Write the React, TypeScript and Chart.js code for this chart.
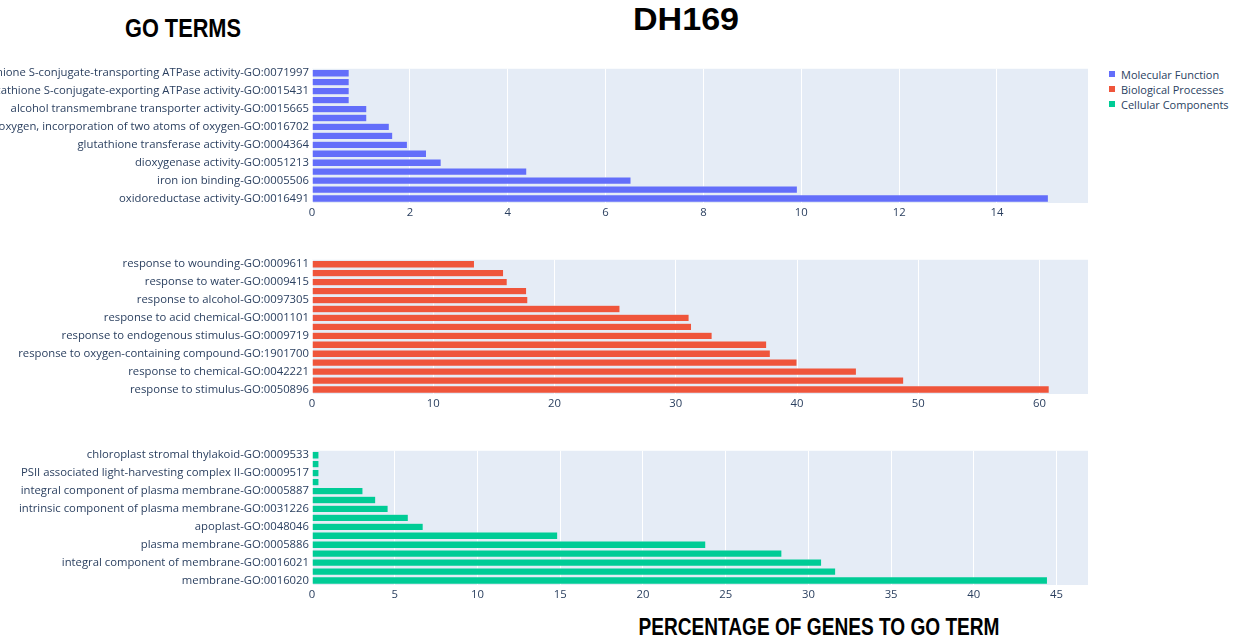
import React, { useEffect, useRef } from "react";
import { Chart, registerables } from "chart.js";

Chart.register(...registerables);

// Molecular Function terms, listed top to bottom as drawn
const mfTerms = [
  "glutathione S-conjugate-transporting ATPase activity-GO:0071997",
  "",
  "glutathione S-conjugate-exporting ATPase activity-GO:0015431",
  "",
  "alcohol transmembrane transporter activity-GO:0015665",
  "",
  "oxidoreductase activity, acting on single donors with incorporation of molecular oxygen, incorporation of two atoms of oxygen-GO:0016702",
  "",
  "glutathione transferase activity-GO:0004364",
  "",
  "dioxygenase activity-GO:0051213",
  "",
  "iron ion binding-GO:0005506",
  "",
  "oxidoreductase activity-GO:0016491",
];
const mfValues = [0.76, 0.76, 0.76, 0.76, 1.12, 1.12, 1.58, 1.65, 1.95, 2.34, 2.64, 4.39, 6.52, 9.92, 15.05];

// Biological Processes terms
const bpTerms = [
  "response to wounding-GO:0009611",
  "",
  "response to water-GO:0009415",
  "",
  "response to alcohol-GO:0097305",
  "",
  "response to acid chemical-GO:0001101",
  "",
  "response to endogenous stimulus-GO:0009719",
  "",
  "response to oxygen-containing compound-GO:1901700",
  "",
  "response to chemical-GO:0042221",
  "",
  "response to stimulus-GO:0050896",
];
const bpValues = [13.4, 15.8, 16.1, 17.7, 17.8, 25.4, 31.1, 31.3, 33.0, 37.5, 37.8, 40.0, 44.9, 48.8, 60.8];

// Cellular Components terms
const ccTerms = [
  "chloroplast stromal thylakoid-GO:0009533",
  "",
  "PSII associated light-harvesting complex II-GO:0009517",
  "",
  "integral component of plasma membrane-GO:0005887",
  "",
  "intrinsic component of plasma membrane-GO:0031226",
  "",
  "apoplast-GO:0048046",
  "",
  "plasma membrane-GO:0005886",
  "",
  "integral component of membrane-GO:0016021",
  "",
  "membrane-GO:0016020",
];
const ccValues = [0.42, 0.42, 0.42, 0.42, 3.08, 3.85, 4.6, 5.82, 6.72, 14.85, 23.8, 28.4, 30.8, 31.65, 44.45];

// Axis ranges and tick steps for the three panels
const axisMax = [15.86, 64.0, 46.9];
const axisStep = [2, 10, 5];

const seriesNames = ["Molecular Function", "Biological Processes", "Cellular Components"];
const seriesColors = ["#636EFA", "#EF553B", "#00CC96"];

const TEXT_COLOR = "#2a3f5f";
const PLOT_BG = "#E5ECF6";
const FONT = '"Open Sans", "Noto Sans", sans-serif';
const TICK_SIZE = 11.3;

const CANVAS_W = 1100;
const PLOT_LEFT = 312;
const PLOT_RIGHT = 1088;
const PAD_TOP = 6;
const X_AXIS_H = 22;

const plotBackground = {
  id: "plotBackground",
  beforeDraw(chart: any) {
    const { ctx, chartArea } = chart;
    if (!chartArea) return;
    ctx.save();
    ctx.fillStyle = PLOT_BG;
    ctx.fillRect(chartArea.left, chartArea.top, chartArea.right - chartArea.left, chartArea.bottom - chartArea.top);
    ctx.restore();
  },
};

type PanelProps = {
  labels: string[];
  values: number[];
  name: string;
  color: string;
  max: number;
  step: number;
  plotTop: number;
  plotBottom: number;
};

function Panel({ labels, values, name, color, max, step, plotTop, plotBottom }: PanelProps) {
  const ref = useRef<HTMLCanvasElement | null>(null);
  const height = plotBottom - plotTop + PAD_TOP + X_AXIS_H;

  useEffect(() => {
    if (!ref.current) return;
    const chart = new Chart(ref.current, {
      type: "bar",
      data: {
        labels,
        datasets: [
          {
            label: name,
            data: values,
            backgroundColor: color,
            borderColor: PLOT_BG,
            borderWidth: 0.5,
            barPercentage: 0.82,
            categoryPercentage: 1,
          },
        ],
      },
      options: {
        indexAxis: "y",
        responsive: false,
        maintainAspectRatio: false,
        animation: false,
        devicePixelRatio: 1,
        layout: { padding: { top: PAD_TOP, right: CANVAS_W - PLOT_RIGHT, left: 0, bottom: 0 } },
        plugins: { legend: { display: false }, tooltip: { enabled: false } },
        scales: {
          x: {
            type: "linear",
            min: 0,
            max,
            grid: { color: "#ffffff", lineWidth: 1, drawTicks: false },
            border: { display: false },
            ticks: {
              stepSize: step,
              includeBounds: false,
              padding: 3,
              maxRotation: 0,
              color: TEXT_COLOR,
              font: { family: FONT, size: TICK_SIZE },
            },
            afterFit: (s: any) => {
              s.height = X_AXIS_H;
            },
          },
          y: {
            type: "category",
            grid: { display: false, drawTicks: false },
            border: { display: false },
            ticks: {
              autoSkip: false,
              padding: 3,
              color: TEXT_COLOR,
              font: { family: FONT, size: TICK_SIZE },
            },
            afterFit: (s: any) => {
              s.width = PLOT_LEFT;
            },
          },
        },
      },
      plugins: [plotBackground],
    } as any);
    return () => chart.destroy();
  }, []);

  return (
    <canvas
      ref={ref}
      width={CANVAS_W}
      height={height}
      style={{ position: "absolute", left: 0, top: plotTop - PAD_TOP, width: CANVAS_W, height }}
    />
  );
}

function Heading({ text, x, y, size, sx }: { text: string; x: number; y: number; size: number; sx: number }) {
  return (
    <div
      style={{
        position: "absolute",
        left: x,
        top: y,
        transform: `translate(-50%, -50%) scaleX(${sx})`,
        fontFamily: '"Liberation Sans", Arial, sans-serif',
        fontWeight: 700,
        fontSize: size,
        lineHeight: 1,
        whiteSpace: "nowrap",
        color: "#000",
      }}
    >
      {text}
    </div>
  );
}

export default function App() {
  const legendTops = [74, 89, 104];
  return (
    <div style={{ position: "absolute", left: 0, top: 0, width: 1244, height: 641, background: "#fff", overflow: "hidden" }}>
      <Heading text="GO TERMS" x={183} y={28} size={25} sx={0.87} />
      <Heading text="DH169" x={686} y={19} size={31} sx={1.1} />
      <Heading text="PERCENTAGE OF GENES TO GO TERM" x={819} y={627} size={23} sx={0.83} />

      <Panel labels={mfTerms} values={mfValues} name={seriesNames[0]} color={seriesColors[0]} max={axisMax[0]} step={axisStep[0]} plotTop={65} plotBottom={203} />
      <Panel labels={bpTerms} values={bpValues} name={seriesNames[1]} color={seriesColors[1]} max={axisMax[1]} step={axisStep[1]} plotTop={256} plotBottom={394} />
      <Panel labels={ccTerms} values={ccValues} name={seriesNames[2]} color={seriesColors[2]} max={axisMax[2]} step={axisStep[2]} plotTop={447} plotBottom={585} />

      {seriesNames.map((n, i) => (
        <div
          key={n}
          style={{
            position: "absolute",
            left: 1109,
            top: legendTops[i] - 7,
            height: 14,
            display: "flex",
            alignItems: "center",
            fontFamily: FONT,
            fontSize: 11,
            color: TEXT_COLOR,
            whiteSpace: "nowrap",
          }}
        >
          <span style={{ display: "inline-block", width: 6, height: 6, background: seriesColors[i], marginRight: 6 }} />
          {n}
        </div>
      ))}
    </div>
  );
}
